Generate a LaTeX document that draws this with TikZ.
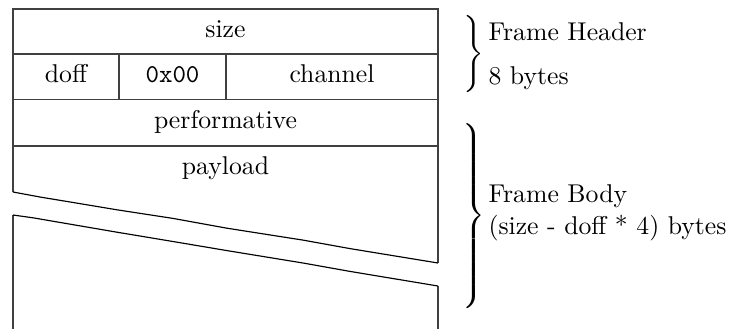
\documentclass[tikz,border=0pt]{standalone}
\usetikzlibrary{positioning}
\begin{document}
\begin{tikzpicture}[x=0.389pt,y=-0.389pt,
  field/.style={draw=black!75,line width=0.4pt},
  lbl/.style={inner sep=0pt,anchor=base},
  side/.style={inner sep=0pt,anchor=base west},
  cut/.style={draw=black,line width=0.45pt,line join=round}]
\useasboundingbox (0,0) rectangle (740,328);

% header rows
\draw[field] (13,9) rectangle (438,54);
\draw[field] (13,54) rectangle (119,99.5);
\draw[field] (119,54) rectangle (226,99.5);
\draw[field] (226,54) rectangle (438,99.5);
\draw[field] (13,99.5) rectangle (438,146);

% payload, broken by a cut
\draw[field] (13,146) -- (13,192);
\draw[field] (438,146) -- (438,263);
\draw[field] (13,215) -- (13,330);
\draw[field] (438,286) -- (438,330);
\draw[cut] (13,192) -- (40,197) -- (117,209.8) -- (173,218.4)
  -- (227,228.2) -- (303,240.1) -- (350,248.6) -- (438,263);
\draw[cut] (13,215) -- (33,217.8) -- (117,232.2) -- (173,241.5)
  -- (227,250.6) -- (303,263) -- (350,271.4) -- (438,286);

% field labels
\node[lbl] (size) at (225.5,37) {size};
\node[lbl] (doff) at (66,82) {doff};
\node[lbl] (flag) at (172.5,82) {\texttt{0x00}};
\node[lbl] (chan) at (332,82) {channel};
\node[lbl] (perf) at (225.5,128) {performative};
\node[lbl] (payl) at (225.5,174) {payload};

% braces and descriptions
\node[inner sep=0pt] (hbrace) at (472,54)
  {$\left.\vrule height 17.5pt depth 12.5pt width 0pt\right\}$};
\node[inner sep=0pt] (bbrace) at (472,216)
  {$\left.\vrule height 40.5pt depth 35.5pt width 0pt\right\}$};
\node[side] (hdr) at (488,40) {Frame Header};
\node[side] (hlen) at (488,84) {8 bytes};
\node[side] (body) at (488,202) {Frame Body};
\node[side] (blen) at (488,234) {(size - doff * 4) bytes};
\end{tikzpicture}
\end{document}
